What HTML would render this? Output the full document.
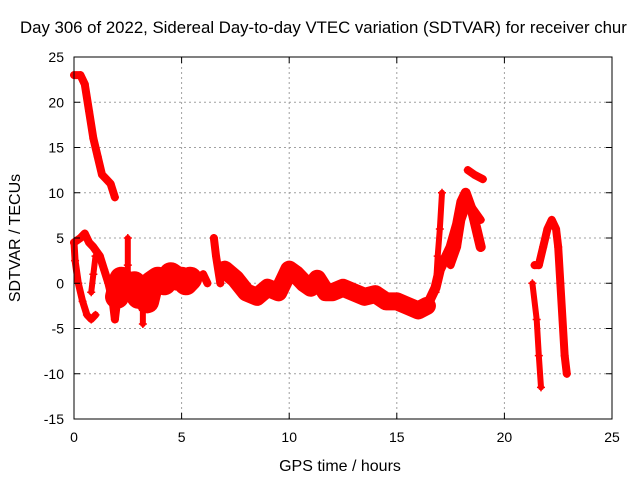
<!DOCTYPE html>
<html><head><meta charset="utf-8"><style>
body{margin:0;background:#fff}
svg{display:block;font-family:"Liberation Sans",sans-serif}
</style></head><body>
<svg id="c" width="640" height="480" xmlns="http://www.w3.org/2000/svg">
<text x="20" y="33" font-size="16.8" fill="#000">Day 306 of 2022, Sidereal Day-to-day VTEC variation (SDTVAR) for receiver chur</text>
<text x="340" y="471" font-size="16" text-anchor="middle">GPS time / hours</text>
<text transform="translate(20,238) rotate(-90)" font-size="16" text-anchor="middle">SDTVAR / TECUs</text>
<g id="grid"></g><g id="marks"></g><g id="axes"></g>
</svg>
<script>
const xTicks=[0,5,10,15,20,25];
const yTicks=[-15,-10,-5,0,5,10,15,20,25];
const trackTop=[[0,23],[0.3,23],[0.5,22],[0.7,19],[0.9,16],[1.1,14],[1.3,12],[1.5,11.5],[1.7,11],[1.9,9.5]];
const trackLoopLeft=[[0,4.5],[0.05,2.5],[0.2,0],[0.4,-2],[0.6,-3.5],[0.8,-4],[1.0,-3.5]];
const trackLoopBack=[[0.8,-1],[0.9,1],[1.0,3]];
const trackHead=[[0,4.5],[0.3,5],[0.5,5.5],[0.7,4.5],[0.9,4],[1.2,3],[1.4,1.5],[1.6,0],[1.8,-2],[1.9,-4],[2.0,-2]];
const trackMain=[[2.0,-1.5],[2.2,0.5],[2.5,-0.5],[2.8,0],[3.0,-1.5],[3.2,-1],[3.4,-2],[3.6,0],[3.9,0.5],[4.2,0],[4.5,1],[4.8,0.5],[5.0,0.5],[5.2,0],[5.4,0.5]];
const trackSpikes1=[[2.5,5],[2.5,2],[2.5,0]];
const trackSpikes2=[[3.2,-1],[3.2,-3],[3.2,-4.5]];
const trackMid1=[[6,1],[6.2,0]];
const trackEarly=[[6.5,5],[6.6,3],[6.8,0]];
const trackMid2=[[7,1.5],[7.5,0.5],[8,-1],[8.5,-1.5],[9,-0.5],[9.5,-1],[9.8,0.5],[10,1.5],[10.3,1],[10.7,0],[11,-0.5],[11.3,0.5],[11.7,-1],[12,-1],[12.5,-0.5],[13,-1],[13.5,-1.5],[14,-1.2],[14.5,-2],[15,-2],[15.5,-2.5],[16,-3],[16.4,-2.5]];
const trackRiseMain=[[16.4,-2.5],[16.8,-0.5],[17,1.5],[17.5,4],[17.8,6.5],[18.0,9],[18.2,10],[18.5,8],[18.9,4]];
const trackRise=[[16.8,-1],[16.9,3],[17.0,6],[17.1,10]];
const trackRise2=[[17.5,2],[17.8,4],[18,7],[18.3,9],[18.6,8],[18.9,7]];
const trackTopRight=[[18.3,12.5],[18.6,12],[19.0,11.5]];
const trackLateA=[[21.4,2],[21.6,2],[21.8,4],[22.0,6],[22.2,7],[22.4,6],[22.5,4],[22.6,0],[22.7,-4],[22.8,-8],[22.9,-10]];
const trackLateB=[[21.3,0],[21.5,-4],[21.6,-8],[21.7,-11.5]];
const tracks=[trackTop,trackLoopLeft,trackLoopBack,trackHead,trackMain,trackSpikes1,trackSpikes2,trackMid1,trackEarly,trackMid2,trackRiseMain,trackRise,trackRise2,trackTopRight,trackLateA,trackLateB];
const widths=[8,7,6,8,24,6,6,8,8,18,10,6,8,8,8,6];

const L=74,R=612,T=57,B=419,x0=0,x1=25,y0=-15,y1=25;
const sx=v=>L+(v-x0)/(x1-x0)*(R-L);
const sy=v=>B-(v-y0)/(y1-y0)*(B-T);
const NS="http://www.w3.org/2000/svg";
function mk(tag,attrs,parent){const e=document.createElementNS(NS,tag);for(const k in attrs)e.setAttribute(k,attrs[k]);parent.appendChild(e);return e;}
const grid=document.getElementById('grid'),axes=document.getElementById('axes'),marks=document.getElementById('marks');
xTicks.forEach(t=>{
  const x=sx(t);
  if(t>x0&&t<x1){const g=mk('line',{x1:x,x2:x,y1:T,y2:B,stroke:'#a0a0a0','stroke-dasharray':'2,3'},grid);
  
  }
  mk('line',{x1:x,x2:x,y1:B,y2:B-6,stroke:'#000'},axes);
  mk('line',{x1:x,x2:x,y1:T,y2:T+6,stroke:'#000'},axes);
  const tx=mk('text',{x:x,y:B+23,'font-size':14,'text-anchor':'middle'},axes);tx.textContent=t;
  
  
});
yTicks.forEach(t=>{
  const y=sy(t);
  if(t>y0&&t<y1){const g=mk('line',{x1:L,x2:R,y1:y,y2:y,stroke:'#a0a0a0','stroke-dasharray':'2,3'},grid);
  
  }
  mk('line',{x1:L,x2:L+6,y1:y,y2:y,stroke:'#000'},axes);
  mk('line',{x1:R,x2:R-6,y1:y,y2:y,stroke:'#000'},axes);
  const tx=mk('text',{x:L-10,y:y+5,'font-size':14,'text-anchor':'end'},axes);tx.textContent=t;
  
  
});
const fr=mk('rect',{x:L,y:T,width:R-L,height:B-T,fill:'none',stroke:'#000'},axes);


tracks.forEach((tr,i)=>{
  const pl=mk('polyline',{points:tr.map(p=>sx(p[0])+','+sy(p[1])).join(' '),fill:'none',stroke:'#ff0000','stroke-width':widths[i],'stroke-linejoin':'round','stroke-linecap':'round'},marks);
  
  
  tr.forEach(p=>{
    const x=sx(p[0]),y=sy(p[1]);
    const m=mk('path',{d:`M${x-4},${y}H${x+4}M${x},${y-4}V${y+4}`,stroke:'#ff0000','stroke-width':1.5},marks);
    
    
  });
});
</script>
</body></html>
